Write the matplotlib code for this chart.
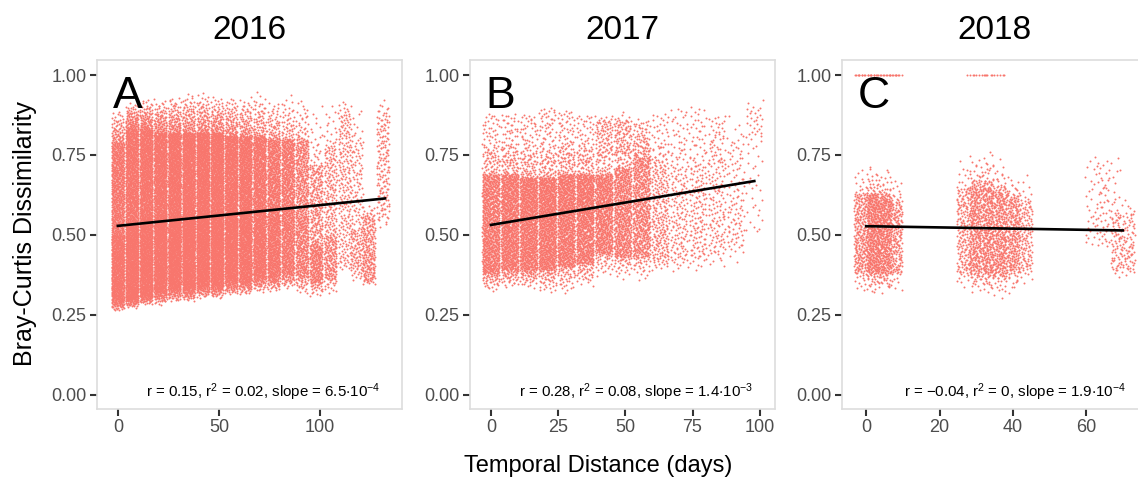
import numpy as np
import matplotlib
matplotlib.use("Agg")
import matplotlib.pyplot as plt

plt.rcParams['font.family'] = ['Liberation Sans', 'DejaVu Sans']
plt.rcParams['mathtext.fontset'] = 'custom'
plt.rcParams['mathtext.rm'] = 'Liberation Sans'
plt.rcParams['mathtext.default'] = 'regular'

# data
years = ['2016', '2017', '2018']
letters = ['A', 'B', 'C']

# one row per sampling column: day, n points, y min, y 5%, y median, y 95%, y max
rows_2016 = [
    (0, 1500, 0.26, 0.30, 0.50, 0.79, 0.90),
    (7, 2000, 0.27, 0.31, 0.53, 0.83, 0.92),
    (14, 2000, 0.28, 0.32, 0.55, 0.83, 0.93),
    (21, 2000, 0.28, 0.33, 0.55, 0.82, 0.93),
    (28, 2000, 0.29, 0.34, 0.56, 0.82, 0.94),
    (35, 2000, 0.29, 0.34, 0.56, 0.82, 0.95),
    (42, 2000, 0.30, 0.35, 0.57, 0.82, 0.95),
    (49, 1900, 0.30, 0.35, 0.57, 0.82, 0.94),
    (56, 1800, 0.31, 0.36, 0.57, 0.81, 0.94),
    (63, 1600, 0.31, 0.36, 0.57, 0.81, 0.94),
    (70, 1400, 0.32, 0.37, 0.57, 0.81, 0.95),
    (77, 1200, 0.32, 0.37, 0.56, 0.80, 0.93),
    (84, 1000, 0.33, 0.38, 0.58, 0.80, 0.95),
    (91, 700, 0.31, 0.37, 0.56, 0.80, 0.94),
    (98, 500, 0.30, 0.35, 0.47, 0.72, 0.93),
    (105, 350, 0.30, 0.36, 0.50, 0.78, 0.93),
    (112, 220, 0.38, 0.42, 0.66, 0.88, 0.94),
    (118, 200, 0.35, 0.39, 0.52, 0.80, 0.92),
    (124, 220, 0.34, 0.36, 0.45, 0.56, 0.60),
    (131, 160, 0.52, 0.56, 0.72, 0.88, 0.93),
]
rows_2017 = [
    (0, 900, 0.32, 0.38, 0.53, 0.69, 0.80),
    (7, 1000, 0.33, 0.39, 0.54, 0.69, 0.80),
    (14, 1000, 0.33, 0.39, 0.54, 0.68, 0.78),
    (21, 1000, 0.31, 0.39, 0.54, 0.68, 0.78),
    (28, 950, 0.31, 0.40, 0.55, 0.69, 0.79),
    (35, 900, 0.33, 0.41, 0.56, 0.69, 0.80),
    (42, 700, 0.36, 0.44, 0.57, 0.69, 0.78),
    (49, 650, 0.36, 0.43, 0.57, 0.71, 0.80),
    (56, 600, 0.35, 0.43, 0.58, 0.74, 0.82),
    (63, 250, 0.38, 0.42, 0.56, 0.72, 0.80),
    (70, 150, 0.37, 0.42, 0.56, 0.72, 0.84),
    (77, 150, 0.38, 0.43, 0.57, 0.72, 0.86),
    (84, 130, 0.38, 0.44, 0.58, 0.74, 0.87),
    (91, 110, 0.40, 0.46, 0.60, 0.80, 0.89),
    (98, 60, 0.50, 0.52, 0.80, 0.90, 0.95),
    # sparse upper band
    (0, 55, 0.72, 0.73, 0.80, 0.87, 0.88),
    (7, 60, 0.72, 0.73, 0.80, 0.87, 0.88),
    (14, 60, 0.72, 0.73, 0.80, 0.87, 0.88),
    (21, 70, 0.72, 0.73, 0.81, 0.89, 0.90),
    (28, 70, 0.72, 0.73, 0.80, 0.88, 0.89),
    (35, 55, 0.72, 0.73, 0.80, 0.87, 0.88),
    (42, 95, 0.72, 0.75, 0.81, 0.86, 0.88),
    (49, 100, 0.70, 0.75, 0.81, 0.86, 0.89),
    (56, 75, 0.70, 0.73, 0.79, 0.85, 0.87),
    (63, 40, 0.72, 0.73, 0.80, 0.87, 0.88),
    (70, 35, 0.72, 0.73, 0.81, 0.89, 0.90),
    (77, 35, 0.72, 0.73, 0.81, 0.89, 0.90),
    (84, 40, 0.72, 0.73, 0.80, 0.87, 0.88),
]
rows_2018 = [
    (0, 500, 0.31, 0.38, 0.50, 0.63, 0.73),
    (3.5, 500, 0.31, 0.38, 0.51, 0.63, 0.73),
    (6.5, 400, 0.31, 0.38, 0.50, 0.61, 0.70),
    (28, 350, 0.33, 0.38, 0.52, 0.65, 0.76),
    (31.5, 400, 0.30, 0.38, 0.52, 0.67, 0.77),
    (35, 400, 0.30, 0.37, 0.51, 0.65, 0.77),
    (38.5, 300, 0.30, 0.38, 0.50, 0.63, 0.72),
    (42, 250, 0.33, 0.39, 0.50, 0.61, 0.70),
    (63, 60, 0.46, 0.48, 0.58, 0.72, 0.75),
    (66, 40, 0.46, 0.48, 0.60, 0.73, 0.75),
    (70, 150, 0.36, 0.39, 0.47, 0.57, 0.62),
    # identical communities (dissimilarity of 1)
    (0, 18, 1.0, 1.0, 1.0, 1.0, 1.0),
    (6.5, 18, 1.0, 1.0, 1.0, 1.0, 1.0),
    (30, 9, 1.0, 1.0, 1.0, 1.0, 1.0),
    (35, 9, 1.0, 1.0, 1.0, 1.0, 1.0),
]
rows = [rows_2016, rows_2017, rows_2018]
jitter_hw = [3.1, 3.2, 3.3]

# fitted lines: intercept, slope, x range
intercepts = [0.528, 0.531, 0.527]
slopes = [6.5e-4, 1.4e-3, -1.9e-4]
fit_x = [(0, 132), (0, 98), (0, 70)]

labels = [
    r'r = 0.15, r$^2$ = 0.02, slope = 6.5$\cdot$10$^{-4}$',
    r'r = 0.28, r$^2$ = 0.08, slope = 1.4$\cdot$10$^{-3}$',
    r'r = $-$0.04, r$^2$ = 0, slope = 1.9$\cdot$10$^{-4}$',
]
label_x = [72, 54, 40.5]

xlims = [(-10.3, 140.4), (-7.8, 105.7), (-6.6, 76.6)]
xticks = [[0, 50, 100], [0, 25, 50, 75, 100], [0, 20, 40, 60]]
yticks = [0.0, 0.25, 0.5, 0.75, 1.0]


def halton(i, base):
    # low-discrepancy jitter positions
    i = i.copy()
    f, r = 1.0, np.zeros(len(i))
    while (i > 0).any():
        f /= base
        r += f * (i % base)
        i //= base
    return r


def cloud(table, hw):
    xs, ys = [], []
    k = 1
    for day, n, mn, p05, med, p95, mx in table:
        i = np.arange(n) + k
        k += n + 7
        u = halton(i, 2)
        v = halton(i, 3)
        y = np.interp(v, [.05, .5, .95], [p05, med, p95])
        lo, hi = v < .05, v > .95
        y[lo] = mn + (p05 - mn) * np.sqrt(v[lo] / .05)
        y[hi] = mx - (mx - p95) * np.sqrt((1 - v[hi]) / .05)
        xs.append(day + (2 * u - 1) * hw)
        ys.append(y)
    return np.concatenate(xs), np.concatenate(ys)


fig = plt.figure(figsize=(11.38, 4.82), dpi=100)
lefts = [97 / 1138, 470 / 1138, 842 / 1138]
w, b, h = 305 / 1138, 73 / 482, 349 / 482

for j in range(3):
    ax = fig.add_axes([lefts[j], b, w, h])
    x, y = cloud(rows[j], jitter_hw[j])
    ax.scatter(x, y, s=2.0, color='#F8766D', linewidths=0, rasterized=True)
    fx = np.array(fit_x[j])
    ax.plot(fx, intercepts[j] + slopes[j] * fx, color='black', lw=1.9, zorder=3)
    ax.text(label_x[j], 0.008, labels[j], ha='center', va='center', fontsize=10.8, color='black')
    ax.text(0.052, 0.862, letters[j], transform=ax.transAxes, fontsize=32, ha='left', va='baseline')
    ax.set_title(years[j], fontsize=24, pad=15)
    ax.set_xlim(xlims[j])
    ax.set_ylim(-0.045, 1.047)
    ax.set_xticks(xticks[j])
    ax.set_yticks(yticks)
    ax.set_yticklabels(['0.00', '0.25', '0.50', '0.75', '1.00'])
    ax.tick_params(length=5, width=1.5, color='#333333', labelcolor='#4D4D4D', labelsize=13, pad=2.5)
    for s in ax.spines.values():
        s.set_color('#DDDDDD')
        s.set_linewidth(1.2)

fig.text(0.022, 0.516, 'Bray-Curtis Dissimilarity', rotation=90, ha='center', va='center', fontsize=18)
fig.text(0.526, 0.033, 'Temporal Distance (days)', ha='center', va='center', fontsize=17)

fig.savefig('out.png', dpi=100)
